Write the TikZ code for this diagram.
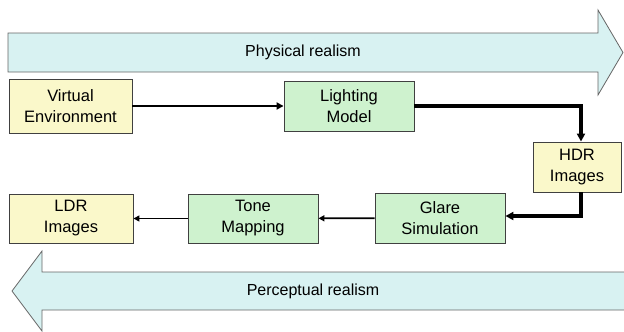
\documentclass[tikz,border=0pt]{standalone}
\usepackage{fontspec}
\setmainfont{Liberation Sans}
\usetikzlibrary{positioning, arrows.meta}
\definecolor{inoutcol}{RGB}{250, 248, 202}
\definecolor{stagecol}{RGB}{206, 242, 206}
\definecolor{realcol}{RGB}{216, 242, 242}
\definecolor{edgecol}{RGB}{64, 64, 64}
\tikzset{
  block/.style={draw=edgecol, line width=0.9pt, minimum width=130pt, minimum height=50pt,
                align=center, inner sep=0pt, font=\fontsize{16.5}{21}\selectfont},
  inout/.style={block, fill=inoutcol},
  stage/.style={block, fill=stagecol},
  realism/.style={draw=gray!80!black, line width=0.8pt, fill=realcol, line join=miter},
  flow/.style={-{Triangle[length=7pt, width=7pt]}, line width=2.8pt},
  heavyflow/.style={-{Triangle[length=8pt, width=8pt]}, line width=3.6pt},
  lightflow/.style={-{Triangle[length=6pt, width=6pt]}, line width=1.8pt},
}

\begin{document}
\begin{tikzpicture}[x=1pt, y=-1pt]
  \useasboundingbox (0,0) rectangle (624,332);

  % realism arrows
  \path[realism] (8,33) -- (598,33) -- (598,10) -- (623,52.5) -- (598,95)
                 -- (598,72) -- (8,72) -- cycle;
  \node[font=\fontsize{16}{20}\selectfont] (phys) at (303,52.5) {Physical realism};

  \path[realism] (630,272) -- (42,272) -- (42,251) -- (12,291) -- (42,331)
                 -- (42,310) -- (630,310);
  \node[font=\fontsize{16}{20}\selectfont] (perc) at (313,291) {Perceptual realism};

  % pipeline
  \node[inout, minimum width=123pt, minimum height=54pt] (virt) at (70.5,106) {Virtual\\Environment};
  \node[stage] (light) at (349,106) {Lighting\\Model};
  \node[inout, minimum width=88pt] (hdr) at (577,167) {HDR\\Images};
  \node[stage] (glare) at (440,218) {Glare\\Simulation};
  \node[stage, minimum height=49pt] (tone) at (253,218.5) {Tone\\Mapping};
  \node[inout, minimum width=124pt, minimum height=49pt] (ldr) at (71,218.5) {LDR\\Images};

  \draw[flow] (virt) -- (light);
  \draw[heavyflow] (light.east) -| ([xshift=4pt]hdr.north);
  \draw[heavyflow] ([xshift=4pt]hdr.south) |- ([yshift=2pt]glare.east);
  \draw[lightflow] (glare) -- (tone);
  \draw[lightflow] (tone) -- (ldr);
\end{tikzpicture}
\end{document}
